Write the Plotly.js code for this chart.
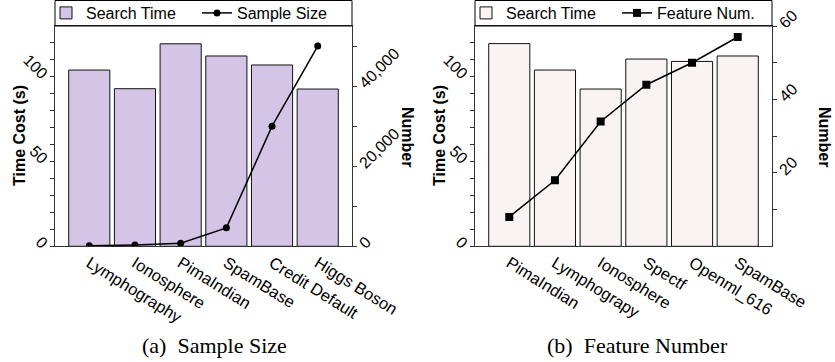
<!DOCTYPE html>
<html>
<head>
<meta charset="utf-8">
<script src="https://cdn.plot.ly/plotly-3.0.1.min.js"></script>
<style>html,body{margin:0;padding:0;background:#fff;}#chart{width:835px;height:362px;}</style>
</head>
<body>
<div id="chart"></div>
<script>
// Panel (a): sample size
const catsA = ['Lymphography', 'Ionosphere', 'PimaIndian', 'SpamBase', 'Credit Default', 'Higgs Boson'];
const timeA = [104, 93, 119.5, 112.3, 107, 92.8];
const sizeA = [148, 351, 768, 4601, 30000, 50000];
// Panel (b): feature number
const catsB = ['PimaIndian', 'Lymphograpy', 'Ionosphere', 'Spectf', 'Openml_616', 'SpamBase'];
const timeB = [119.6, 104, 92.8, 110.5, 109.1, 112.3];
const featB = [8, 18, 34, 44, 50, 57];
// Tick labels
const timeTickVals = [0, 10, 20, 30, 40, 50, 60, 70, 80, 90, 100, 110, 120];
const timeTickText = ['0', '', '', '', '', '50', '', '', '', '', '100', '', ''];
const sizeTickVals = [0, 10000, 20000, 30000, 40000, 50000];
const sizeTickText = ['0', '', '20,000', '', '40,000', ''];
const featTickVals = [10, 20, 30, 40, 50, 60];
const featTickText = ['', '20', '', '40', '', '60'];

const W = 835, H = 362;
const FONT = 'Liberation Sans, Arial, Helvetica, sans-serif';
const SERIF = 'Liberation Serif, Times New Roman, serif';
const AXC = '#333';
const px = v => v / W;
const py = v => (H - v) / H;
const yDom = [py(246.3), py(26)];

const traces = [
  {type: 'bar', x: catsA, y: timeA, name: 'Search Time', xaxis: 'x', yaxis: 'y', width: 0.9,
   marker: {color: '#d4c5e6', line: {color: '#111', width: 1}}, legend: 'legend'},
  {type: 'scatter', mode: 'lines+markers', x: catsA, y: sizeA, name: 'Sample Size', xaxis: 'x', yaxis: 'y2',
   line: {color: '#000', width: 1.5}, marker: {symbol: 'circle', size: 7, color: '#000'}, legend: 'legend'},
  {type: 'bar', x: catsB, y: timeB, name: 'Search Time', xaxis: 'x2', yaxis: 'y3', width: 0.9,
   marker: {color: '#f9f3f4', line: {color: '#111', width: 1}}, legend: 'legend2'},
  {type: 'scatter', mode: 'lines+markers', x: catsB, y: featB, name: 'Feature Num.', xaxis: 'x2', yaxis: 'y4',
   line: {color: '#000', width: 1.5}, marker: {symbol: 'square', size: 8, color: '#000'}, legend: 'legend2'}
];

function xAx(dom) {
  return {domain: dom, type: 'category', range: [-0.75, 5.75], showline: true, mirror: true,
    linecolor: AXC, linewidth: 1, ticks: '', tickangle: 32, showgrid: false, zeroline: false,
    tickfont: {family: FONT, size: 16.5, color: '#000'}, automargin: false, fixedrange: true};
}
function yLeft(anchor) {
  return {domain: yDom, anchor: anchor, range: [0, 130], tickvals: timeTickVals, ticktext: timeTickText,
    ticks: 'outside', ticklen: 4, tickcolor: AXC, tickangle: 45, showline: true, linecolor: AXC,
    showgrid: false, zeroline: false, tickfont: {family: FONT, size: 16, color: '#000'},
    automargin: false, fixedrange: true};
}
function yRight(overlay, anchor, range, vals, text) {
  return {overlaying: overlay, anchor: anchor, side: 'right', range: range, tickvals: vals, ticktext: text,
    ticks: 'outside', ticklen: 4, tickcolor: AXC, tickangle: -45, showline: true, linecolor: AXC,
    showgrid: false, zeroline: false, tickfont: {family: FONT, size: 16, color: '#000'},
    automargin: false, fixedrange: true};
}
function legendCfg(x) {
  return {x: x, y: 1 + 4 / H, xanchor: 'left', yanchor: 'top', orientation: 'h', bgcolor: 'rgba(0,0,0,0)',
    borderwidth: 0, font: {family: FONT, size: 16, color: '#000'}, entrywidth: 106, itemclick: false};
}
function ann(x, y, text, angle, font) {
  return {xref: 'paper', yref: 'paper', x: px(x), y: py(y), text: text, textangle: angle, showarrow: false,
    xanchor: 'center', yanchor: 'middle', font: font};
}
const titleFont = {family: FONT, size: 16, color: '#000', weight: 'bold'};
const capFont = {family: SERIF, size: 22, color: '#000'};

const layout = {
  width: W, height: H, margin: {l: 0, r: 0, t: 0, b: 0, autoexpand: false},
  paper_bgcolor: '#fff', plot_bgcolor: '#fff', showlegend: true,
  xaxis: xAx([px(55), px(352)]),
  yaxis: yLeft('x'),
  yaxis2: yRight('y', 'x', [0, 55000], sizeTickVals, sizeTickText),
  xaxis2: Object.assign(xAx([px(475), px(772)]), {anchor: 'y3'}),
  yaxis3: yLeft('x2'),
  yaxis4: yRight('y3', 'x2', [0, 60], featTickVals, featTickText),
  legend: legendCfg(px(46)),
  legend2: legendCfg(px(466)),
  shapes: [
    {type: 'rect', xref: 'paper', yref: 'paper', x0: px(55), x1: px(352), y0: py(26), y1: py(0.5),
     line: {color: '#000', width: 1}, fillcolor: 'rgba(0,0,0,0)'},
    {type: 'rect', xref: 'paper', yref: 'paper', x0: px(475), x1: px(772), y0: py(26), y1: py(0.5),
     line: {color: '#000', width: 1}, fillcolor: 'rgba(0,0,0,0)'}
  ],
  annotations: [
    ann(19, 136, 'Time Cost (s)', -90, titleFont),
    ann(439, 136, 'Time Cost (s)', -90, titleFont),
    ann(408, 137, 'Number', 90, titleFont),
    ann(825, 137, 'Number', 90, titleFont),
    ann(215, 345, '(a)\u2002Sample Size', 0, capFont),
    ann(637, 345, '(b)\u2002Feature Number', 0, capFont)
  ]
};

Plotly.newPlot('chart', traces, layout, {displayModeBar: false, staticPlot: true});
</script>
</body>
</html>
